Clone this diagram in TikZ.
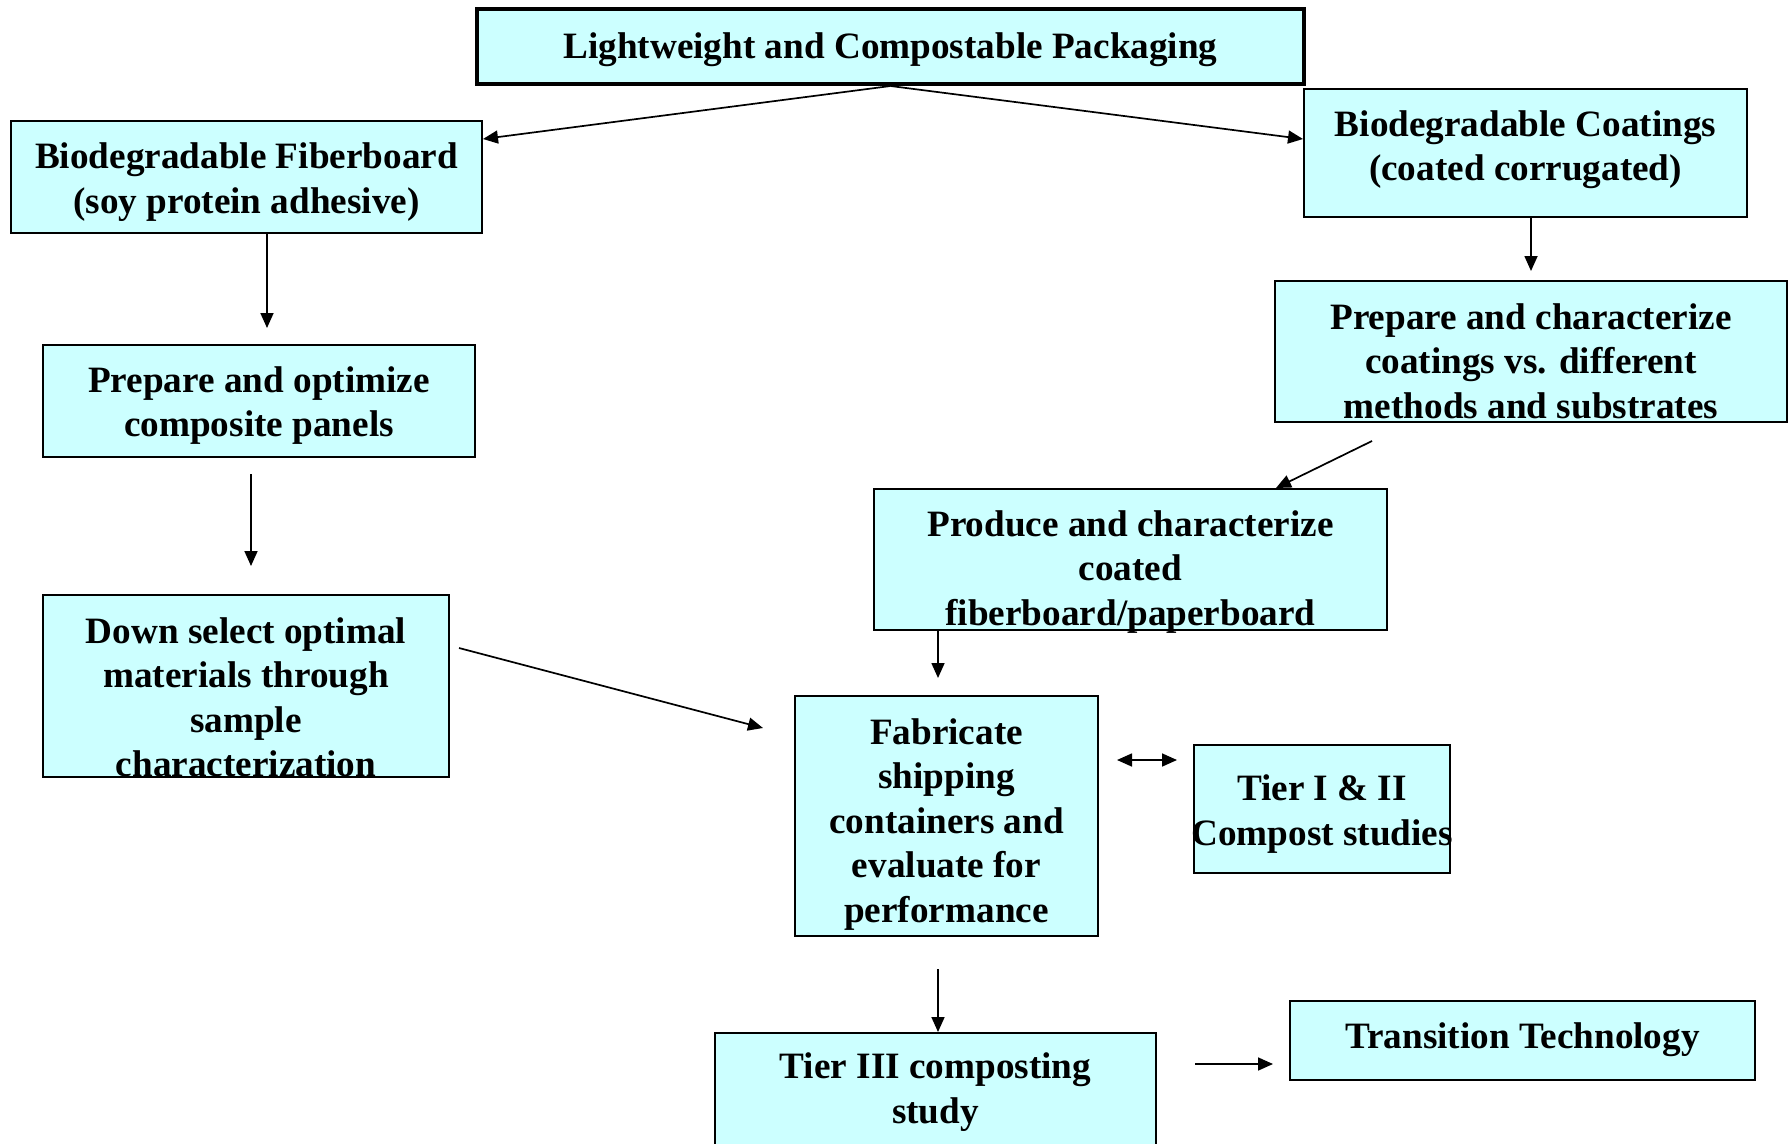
\documentclass[tikz,border=0pt]{standalone}
\usepackage{fontspec}
\setmainfont{Liberation Serif}
\usetikzlibrary{arrows.meta,calc}
\definecolor{boxfill}{RGB}{204,255,255}
\tikzset{
  box/.style={draw=black, line width=2pt, fill=boxfill, rectangle, inner sep=0pt},
  txt/.style={align=center, inner sep=0pt, font=\bfseries\fontsize{37.2}{44.5}\selectfont},
  arr/.style={line width=1.7pt, -{Triangle[length=15pt,width=13pt]}},
  darr/.style={line width=1.7pt, {Triangle[length=15pt,width=13pt]}-{Triangle[length=15pt,width=13pt]}}
}
\begin{document}
\begin{tikzpicture}[x=1pt,y=-1pt]
\useasboundingbox (0,0) rectangle (1790,1143);
\clip (0,0) rectangle (1790,1143);
% boxes
\node[box, line width=4pt, minimum width=827pt, minimum height=75pt] (title) at (890.5,46.5) {};
\node[box, minimum width=471pt, minimum height=112pt] (BF) at (246.5,177) {};
\node[box, minimum width=443pt, minimum height=128pt] (BC) at (1525.5,153) {};
\node[box, minimum width=432pt, minimum height=112pt] (PO) at (259,401) {};
\node[box, minimum width=512pt, minimum height=141pt] (PC) at (1531,351.5) {};
\node[box, minimum width=513pt, minimum height=141pt] (PR) at (1130.5,559.5) {};
\node[box, minimum width=406pt, minimum height=182pt] (DS) at (246,686) {};
\node[box, minimum width=303pt, minimum height=240pt] (FA) at (946.5,816) {};
\node[box, minimum width=256pt, minimum height=128pt] (T12) at (1322,809) {};
\node[box, minimum width=441pt, minimum height=130pt] (T3) at (935.5,1098) {};
\node[box, minimum width=465pt, minimum height=79pt] (TT) at (1522.5,1040.5) {};
% texts
\node[txt] (title-t) at (890.5,50) {Lightweight and Compostable Packaging};
\node[txt] (BF-t) at (246.5,182) {Biodegradable Fiberboard\\(soy protein adhesive)};
\node[txt] (BC-t) at (1525.5,149.5) {Biodegradable Coatings\\(coated corrugated)};
\node[txt] (PO-t) at (259,405.5) {Prepare and optimize\\composite panels};
\node[txt] (PC-t) at (1531,361) {Prepare and characterize\\coatings vs. different\\methods and substrates};
\node[txt] (PR-t) at (1130.5,572) {Produce and characterize\\coated\\fiberboard/paperboard};
\node[txt] (DS-t) at (246,697.5) {Down select optimal\\materials through\\sample\\characterization};
\node[txt] (FA-t) at (946.5,824.5) {Fabricate\\shipping\\containers and\\evaluate for\\performance};
\node[txt] (T12-t) at (1322,814) {Tier I \& II\\Compost studies};
\node[txt] (T3-t) at (935.5,1092) {Tier III composting\\study};
\node[txt] (TT-t) at (1522.5,1040) {Transition Technology};
% free ends
\coordinate (c6s) at (1372,441);
\coordinate (c8s) at (459,648);
\coordinate (c8e) at (763,728);
% connectors
\draw[arr] (title.south) -- (BF.east |- 0,139);
\draw[arr] (title.south) -- (BC.west |- 0,139);
\draw[arr, shorten >=16pt] (BF.south -| 267,0) -- (PO.north -| 267,0);
\draw[arr, shorten >=9pt] (BC.south -| 1531,0) -- (PC.north -| 1531,0);
\draw[arr, shorten <=16pt, shorten >=28pt] (PO.south -| 251,0) -- (DS.north -| 251,0);
\draw[arr] (c6s) -- (PR.north -| 1276,0);
\draw[arr, shorten >=17pt] (PR.south -| 938,0) -- (FA.north -| 938,0);
\draw[arr] (c8s) -- (c8e);
\draw[darr, shorten <=18pt, shorten >=16pt] (FA.east |- 0,760) -- (T12.west |- 0,760);
\draw[arr, shorten <=32pt] (FA.south -| 938,0) -- (T3.north -| 938,0);
\draw[arr, shorten <=38pt, shorten >=16pt] (T3.east |- 0,1064) -- (TT.west |- 0,1064);
\end{tikzpicture}
\end{document}
